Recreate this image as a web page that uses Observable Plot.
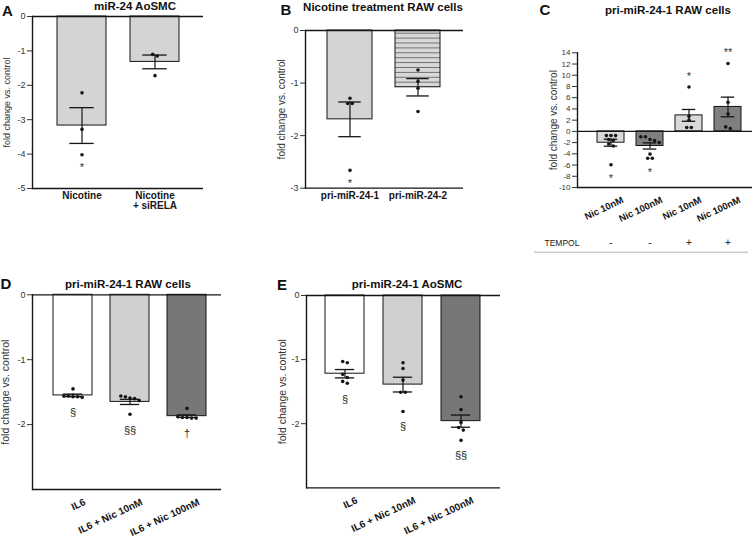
<!DOCTYPE html>
<html><head><meta charset="utf-8">
<script src="https://cdn.jsdelivr.net/npm/d3@7"></script>
<script src="https://cdn.jsdelivr.net/npm/@observablehq/plot@0.6"></script>
<style>
body{margin:0;background:#fff;font-family:"Liberation Sans",Arial,Helvetica,sans-serif;}
#fig{position:relative;width:756px;height:542px;overflow:hidden;background:#fff;}
#fig svg{position:absolute;}
.lt{position:absolute;font-weight:bold;font-size:15px;line-height:1;transform:translate(-50%,-50%);color:#111;}
.tt{position:absolute;font-weight:bold;font-size:11.5px;line-height:1;white-space:nowrap;transform:translate(-50%,-50%);color:#111;}
</style></head><body><div id="fig"></div>
<script>
// ---------- Panel A: miR-24 AoSMC ----------
const aCats = ["Nicotine", "Nicotine\n+ siRELA"];
const aMeans = [-3.17, -1.32];
const aSem = [0.52, 0.20];
const aPts = [[-2.22, -3.28, -4.02], [-1.10, -1.15, -1.72]];
const aSig = ["*", ""];
const aSigY = [-4.31, null];
const aTicks = [0, -1, -2, -3, -4, -5];

// ---------- Panel B: Nicotine treatment RAW cells ----------
const bCats = ["pri-miR-24-1", "pri-miR-24-2"];
const bMeans = [-1.69, -1.08];
const bSem = [0.33, 0.165];
const bPts = [[-1.29, -1.39, -1.39, -2.66], [-0.75, -0.97, -1.10, -1.54]];
const bSig = ["*", ""];
const bSigY = [-2.87, null];
const bTicks = [0, -1, -2, -3];

// ---------- Panel C: pri-miR-24-1 RAW cells (TEMPOL) ----------
const cCats = ["Nic 10nM", "Nic 100nM", "Nic 10nM", "Nic 100nM"];
const cTempol = ["-", "-", "+", "+"];
const cMeans = [-2.02, -2.6, 2.85, 4.35];
const cSem = [0.62, 0.55, 1.05, 1.75];
const cPts = [
  [-0.75, -0.75, -0.75, -1.45, -1.6, -2.25, -2.6, -5.95],
  [-0.95, -0.95, -1.45, -1.65, -2.0, -4.05, -4.8, -4.8],
  [7.9, 2.7, 2.0, 0.7, 0.7],
  [12.1, 5.2, 3.1, 0.8, 0.5]
];
const cSig = ["*", "*", "*", "**"];
const cSigY = [-7.9, -6.85, 10.2, 14.4];
const cTicks = [14, 12, 10, 8, 6, 4, 2, 0, -2, -4, -6, -8, -10];

// ---------- Panel D: pri-miR-24-1 RAW cells (IL6) ----------
const dCats = ["IL6", "IL6 + Nic 10nM", "IL6 + Nic 100nM"];
const dMeans = [-1.55, -1.65, -1.87];
const dSem = [0.02, 0.04, 0.02];
const dPts = [
  [-1.45, -1.56, -1.57, -1.58, -1.57, -1.56],
  [-1.56, -1.57, -1.59, -1.60, -1.63, -1.84],
  [-1.75, -1.89, -1.90, -1.90, -1.89, -1.88]
];
const dSig = ["§", "§§", "†"];
const dSigY = [-1.81, -2.09, -2.14];
const dTicks = [0, -1, -2];

// ---------- Panel E: pri-miR-24-1 AoSMC ----------
const eCats = ["IL6", "IL6 + Nic 10nM", "IL6 + Nic 100nM"];
const eMeans = [-1.22, -1.39, -1.96];
const eSem = [0.065, 0.115, 0.095];
const ePts = [
  [-1.03, -1.05, -1.23, -1.28, -1.34, -1.37],
  [-1.05, -1.14, -1.32, -1.51, -1.51, -1.81],
  [-1.58, -1.78, -1.98, -2.06, -2.10, -2.26]
];
const eSig = ["§", "§", "§§"];
const eSigY = [-1.62, -2.04, -2.5];
const eTicks = [0, -1, -2];

const yLabel = "fold change vs. control";
const FONT = '"Liberation Sans", Arial, Helvetica, sans-serif';
const INK = "#151515";

// spread points that overlap vertically (computed, not typed)
function swarm(vals, ppu, gap = 3.5, step = 4.6) {
  const order = vals.map((v, i) => i).sort((a, b) => vals[b] - vals[a]);
  const off = new Array(vals.length).fill(0);
  let cl = [];
  const flush = () => { cl.forEach((k, j) => off[k] = (j - (cl.length - 1) / 2) * step); cl = []; };
  order.forEach(k => {
    if (cl.length && Math.abs(vals[cl[cl.length - 1]] - vals[k]) * ppu >= gap) flush();
    cl.push(k);
  });
  flush();
  return off;
}

function panel(cfg) {
  const n = cfg.cats.length, idx = d3.range(n);
  const {x0, x1, y0, y1} = cfg.frame;
  const {x: bx, y: by, w, h} = cfg.box;
  const ppu = (y1 - y0) / (cfg.domain[1] - cfg.domain[0]);
  const step = (x1 - x0) / (n - cfg.pI + 2 * cfg.pO);
  const bw = step * (1 - cfg.pI);
  const bars = idx.map(i => ({i, v: cfg.means[i]}));
  const errs = idx.map(i => ({i, lo: cfg.means[i] - cfg.sem[i], hi: cfg.means[i] + cfg.sem[i]}));
  const dots = [];
  idx.forEach(i => {
    const off = swarm(cfg.pts[i], ppu);
    cfg.pts[i].forEach((v, k) => dots.push({i, v, off: Math.round(off[k] * 10) / 10}));
  });
  const dotMarks = d3.groups(dots, d => d.off).map(([off, g]) =>
    Plot.dot(g, {x: "i", y: "v", dx: off, r: 1.8, fill: INK, stroke: "none"}));
  const sigs = idx.filter(i => cfg.sig[i]).map(i => ({i, s: cfg.sig[i], y: cfg.sigY[i]}));
  const stars = sigs.filter(d => d.s.includes("*"));
  const others = sigs.filter(d => !d.s.includes("*"));
  const marks = [
    Plot.barY(bars, {x: "i", y: "v", fill: d => cfg.fills[d.i], stroke: INK, strokeWidth: 1}),
    Plot.ruleX(errs, {x: "i", y1: "lo", y2: "hi", stroke: INK, strokeWidth: 1.2}),
    Plot.tickY(errs, {x: "i", y: "lo", inset: bw / 4, stroke: INK, strokeWidth: 1.3}),
    Plot.tickY(errs, {x: "i", y: "hi", inset: bw / 4, stroke: INK, strokeWidth: 1.3}),
    ...dotMarks,
    Plot.text(stars, {x: "i", y: "y", text: "s", fontSize: 11, lineAnchor: "top", dy: -2, fill: "#333"}),
    Plot.text(others, {x: "i", y: "y", text: "s", fontSize: 11, fill: "#222"}),
    Plot.ruleY([0], {stroke: INK, strokeWidth: 1.3}),
    Plot.ruleY([cfg.domain[0]], {stroke: INK, strokeWidth: 1.3}),
    Plot.frame({anchor: "left", stroke: INK, strokeWidth: 1.4}),
    Plot.axisY({ticks: cfg.ticks, tickFormat: d => String(d), tickSize: 5, tickPadding: 2,
      fontSize: cfg.tickFont, label: null, color: "#333"}),
    Plot.text([yLabel], {text: d => d, frameAnchor: "left", textAnchor: "middle", rotate: -90, dx: cfg.ylabDx,
      fontSize: cfg.ylabFont, fill: "#333", lineAnchor: "middle"}),
    Plot.axisX({tickSize: 0, tickPadding: cfg.xPad, tickFormat: i => cfg.cats[i], fontSize: cfg.xFont,
      fontWeight: "bold", tickRotate: cfg.rot || 0, dx: cfg.xDx || 0, label: null, color: INK}),
    ...(cfg.extra || [])
  ];
  const svg = Plot.plot({
    width: w, height: h,
    marginLeft: x0 - bx, marginRight: bx + w - x1, marginTop: y0 - by, marginBottom: by + h - y1,
    style: {fontFamily: FONT, background: "transparent", overflow: "visible"},
    x: {domain: idx, paddingInner: cfg.pI, paddingOuter: cfg.pO, align: cfg.align ?? 0.5, axis: null},
    y: {domain: cfg.domain, axis: null},
    color: {type: "identity"},
    marks
  });
  svg.style.left = bx + "px";
  svg.style.top = by + "px";
  if (cfg.after) cfg.after(svg);
  return svg;
}

const fig = document.getElementById("fig");

fig.appendChild(panel({
  cats: aCats, means: aMeans, sem: aSem, pts: aPts, sig: aSig, sigY: aSigY, ticks: aTicks,
  domain: [-5, 0], box: {x: 0, y: 0, w: 215, h: 230}, frame: {x0: 32, x1: 203, y0: 16, y1: 188},
  pI: 0.33, pO: 0.33, fills: ["#d4d4d4", "#d4d4d4"],
  tickFont: 9, ylabDx: -25, ylabFont: 9, xPad: 3, xFont: 10
}));

fig.appendChild(panel({
  cats: bCats, means: bMeans, sem: bSem, pts: bPts, sig: bSig, sigY: bSigY, ticks: bTicks,
  domain: [-3, 0], box: {x: 250, y: 0, w: 250, h: 230}, frame: {x0: 305, x1: 463, y0: 30, y1: 187.7},
  pI: 0.338, pO: 0.33, fills: ["#d4d4d4", "url(#hstripes)"],
  tickFont: 9, ylabDx: -23.5, ylabFont: 10, xPad: 4, xFont: 10,
  after: svg => {
    const defs = d3.select(svg).insert("defs", ":first-child");
    const p = defs.append("pattern").attr("id", "hstripes").attr("patternUnits", "userSpaceOnUse")
      .attr("x", 0).attr("y", 3.3).attr("width", 10).attr("height", 4.9);
    p.append("rect").attr("width", 10).attr("height", 4.9).attr("fill", "#d8d8d8");
    p.append("line").attr("x1", 0).attr("x2", 10).attr("y1", 0.4).attr("y2", 0.4)
      .attr("stroke", "#4a4a4a").attr("stroke-width", 0.8);
  }
}));

fig.appendChild(panel({
  cats: cCats, means: cMeans, sem: cSem, pts: cPts, sig: cSig, sigY: cSigY, ticks: cTicks,
  domain: [-10, 14], box: {x: 500, y: 0, w: 256, h: 262}, frame: {x0: 577, x1: 752, y0: 52.3, y1: 187},
  pI: 0.316, pO: 0.373, align: 0.64, fills: ["#d9d9d9", "#7f7f7f", "#d9d9d9", "#7f7f7f"],
  tickFont: 8, ylabDx: -23.5, ylabFont: 10, xPad: 12, xFont: 9.5, rot: -25, xDx: 12,
  extra: [
    Plot.text(cTempol, {x: (d, i) => i, text: d => d, frameAnchor: "bottom", dy: 58, fontSize: 10, fill: "#222"}),
    Plot.text(["TEMPOL"], {text: d => d, frameAnchor: "bottom-left", dx: -33, dy: 58, textAnchor: "start", fontSize: 8.5, fill: "#222"}),
    Plot.ruleY([-10], {dy: 64.7, insetLeft: -43, insetRight: 4, stroke: "#9a9a9a", strokeWidth: 0.8})
  ]
}));

fig.appendChild(panel({
  cats: dCats, means: dMeans, sem: dSem, pts: dPts, sig: dSig, sigY: dSigY, ticks: dTicks,
  domain: [-3, 0], box: {x: 0, y: 270, w: 230, h: 272}, frame: {x0: 32, x1: 221, y0: 294.3, y1: 489},
  pI: 0.32, pO: 0.29, align: 0.57, fills: ["#ffffff", "#d0d0d0", "#777777"],
  tickFont: 9, ylabDx: -26.5, ylabFont: 10.5, xPad: 12, xFont: 10, rot: -25, xDx: 12
}));

fig.appendChild(panel({
  cats: eCats, means: eMeans, sem: eSem, pts: ePts, sig: eSig, sigY: eSigY, ticks: eTicks,
  domain: [-3, 0], box: {x: 250, y: 270, w: 256, h: 272}, frame: {x0: 306, x1: 500, y0: 295, y1: 487.3},
  pI: 0.32, pO: 0.33, fills: ["#ffffff", "#d0d0d0", "#777777"],
  tickFont: 9, ylabDx: -23.5, ylabFont: 10.5, xPad: 12, xFont: 10, rot: -25, xDx: 12
}));

// panel letters and titles
const labels = [
  ["lt", "A", 7.5, 9.5], ["lt", "B", 286, 8.5], ["lt", "C", 545, 8.5], ["lt", "D", 6, 282.5], ["lt", "E", 282, 284],
  ["tt", "miR-24 AoSMC", 135, 7], ["tt", "Nicotine treatment RAW cells", 383, 8],
  ["tt", "pri-miR-24-1 RAW cells", 668, 11], ["tt", "pri-miR-24-1 RAW cells", 128, 285],
  ["tt", "pri-miR-24-1 AoSMC", 407, 285]
];
labels.forEach(([cls, t, x, y]) => {
  const d = document.createElement("div");
  d.className = cls; d.textContent = t; d.style.left = x + "px"; d.style.top = y + "px";
  fig.appendChild(d);
});
</script></body></html>
